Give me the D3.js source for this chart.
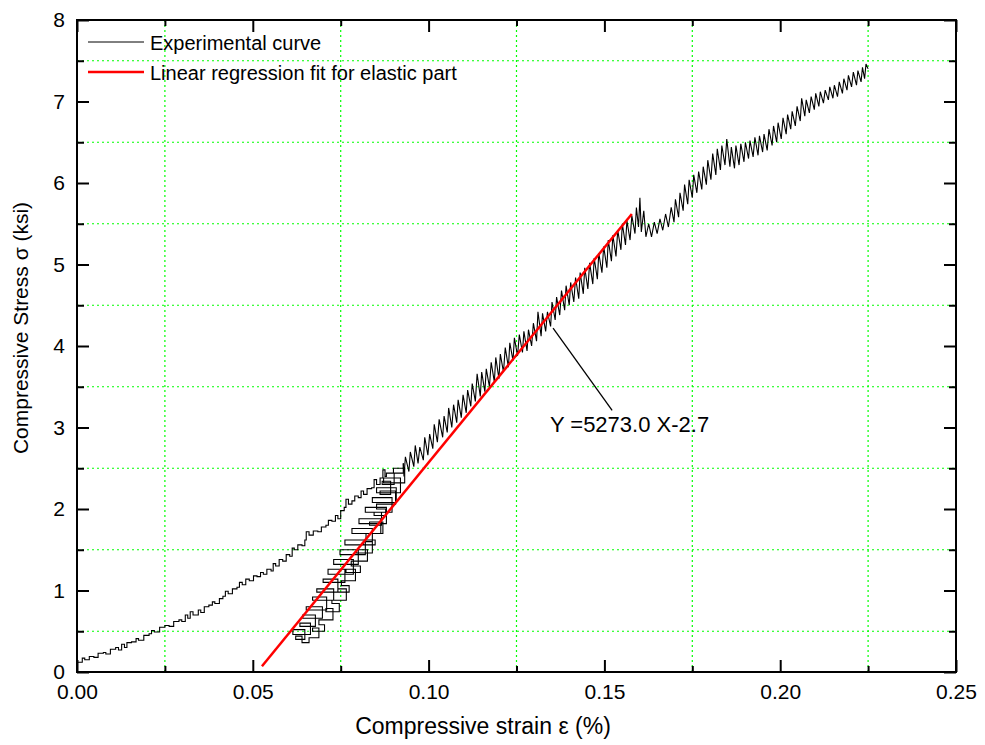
<!DOCTYPE html>
<html>
<head>
<meta charset="utf-8">
<script src="https://cdn.jsdelivr.net/npm/d3@7"></script>
<style>
  body { margin: 0; background: #fff; }
  text { font-family: "Liberation Sans", Arial, sans-serif; fill: #000; }
</style>
</head>
<body>
<div id="chart-area"></div>
<script>
// tick values
var strainTicks = [0, 0.05, 0.10, 0.15, 0.20, 0.25];
var strainMinor = [0.025, 0.075, 0.125, 0.175, 0.225];
var stressTicks = [0, 1, 2, 3, 4, 5, 6, 7, 8];
var stressMinor = [0.5, 1.5, 2.5, 3.5, 4.5, 5.5, 6.5, 7.5];

// experimental curve, strain (%) vs stress (ksi)
var loadingBranch = [
  [0.0000,0.12],[0.0015,0.17],[0.0022,0.15],[0.0035,0.19],[0.0048,0.18],[0.0060,0.23],[0.0075,0.24],[0.0082,0.22],
  [0.0095,0.28],[0.0110,0.30],[0.0118,0.27],[0.0127,0.34],[0.0135,0.30],[0.0142,0.36],[0.0155,0.37],[0.0168,0.41],
  [0.0175,0.39],[0.0190,0.45],[0.0205,0.47],[0.0212,0.51],[0.0220,0.49],[0.0235,0.55],[0.0250,0.57],[0.0262,0.56],
  [0.0275,0.62],[0.0290,0.64],[0.0298,0.62],[0.0308,0.70],[0.0315,0.66],[0.0322,0.74],[0.0330,0.70],[0.0345,0.76],
  [0.0352,0.73],[0.0362,0.80],[0.0375,0.82],[0.0385,0.86],[0.0392,0.84],[0.0405,0.90],[0.0415,0.93],[0.0422,0.99],
  [0.0430,0.96],[0.0442,1.02],[0.0455,1.04],[0.0462,1.10],[0.0470,1.07],[0.0480,1.14],[0.0490,1.12],[0.0502,1.18],
  [0.0512,1.17],[0.0522,1.22],[0.0530,1.20],[0.0540,1.26],[0.0552,1.24],[0.0558,1.33],[0.0565,1.30],[0.0575,1.38],
  [0.0585,1.36],[0.0595,1.44],[0.0605,1.42],[0.0612,1.52],[0.0618,1.50],[0.0628,1.56],[0.0640,1.55],[0.0648,1.62],
  [0.0652,1.72],[0.0660,1.68],[0.0672,1.73],[0.0685,1.72],[0.0695,1.78],[0.0708,1.80],[0.0715,1.86],[0.0725,1.85],
  [0.0735,1.92],[0.0742,1.88],[0.0750,1.98],[0.0760,2.02],[0.0765,2.12],[0.0772,2.06],[0.0782,2.10],[0.0790,2.16],
  [0.0800,2.14],[0.0808,2.22],[0.0815,2.18],[0.0825,2.25],[0.0838,2.26],[0.0845,2.36],[0.0852,2.30],[0.0862,2.38],
  [0.0870,2.48],[0.0876,2.40]
];
var unloadBranch = [
  [0.0880,2.44],[0.0902,2.30],[0.0868,2.34],[0.0892,2.18],[0.0862,2.22],[0.0906,2.06],[0.0852,2.00],[0.0878,1.92],
  [0.0845,1.96],[0.0866,1.80],[0.0832,1.84],[0.0870,1.70],[0.0822,1.62],[0.0848,1.56],[0.0815,1.60],[0.0840,1.46],
  [0.0795,1.50],[0.0826,1.36],[0.0780,1.30],[0.0806,1.22],[0.0765,1.26],[0.0792,1.12],[0.0752,1.06],[0.0774,0.98],
  [0.0742,1.02],[0.0766,0.88],[0.0725,0.84],[0.0746,0.74],[0.0708,0.78],[0.0728,0.64],[0.0688,0.58],[0.0704,0.50],
  [0.0670,0.54],[0.0688,0.42],[0.0660,0.36],[0.0640,0.44]
];
var reloadBranch = [
  [0.0622,0.40],[0.0648,0.52],[0.0614,0.46],[0.0664,0.60],[0.0634,0.56],[0.0678,0.70],[0.0642,0.66],[0.0698,0.80],
  [0.0652,0.76],[0.0710,0.92],[0.0670,0.88],[0.0730,1.02],[0.0682,0.98],[0.0742,1.14],[0.0700,1.10],[0.0762,1.26],
  [0.0714,1.20],[0.0786,1.38],[0.0730,1.32],[0.0800,1.50],[0.0748,1.44],[0.0820,1.62],[0.0762,1.56],[0.0840,1.76],
  [0.0782,1.70],[0.0864,1.88],[0.0802,1.82],[0.0880,2.02],[0.0820,1.96],[0.0896,2.14],[0.0840,2.08],[0.0908,2.26],
  [0.0852,2.20],[0.0920,2.38],[0.0872,2.32],[0.0932,2.50],[0.0900,2.44],[0.0928,2.56]
];
var upperBranch = [
  [0.0928,2.56],
  [0.0930,2.40],[0.0934,2.64],[0.0944,2.46],[0.0948,2.70],[0.0958,2.52],[0.0962,2.78],[0.0970,2.56],[0.0975,2.76],
  [0.0985,2.60],[0.0989,2.88],[0.0998,2.66],[0.1003,2.92],[0.1012,2.74],[0.1016,3.04],[0.1025,2.82],[0.1030,3.10],
  [0.1040,2.88],[0.1044,3.14],[0.1053,2.94],[0.1057,3.24],[0.1066,3.00],[0.1071,3.28],[0.1080,3.06],[0.1084,3.34],
  [0.1093,3.12],[0.1098,3.40],[0.1107,3.18],[0.1111,3.46],[0.1120,3.26],[0.1124,3.54],[0.1133,3.32],[0.1138,3.66],
  [0.1147,3.38],[0.1151,3.68],[0.1160,3.44],[0.1164,3.72],[0.1173,3.50],[0.1178,3.80],[0.1187,3.56],[0.1191,3.86],
  [0.1200,3.60],[0.1204,3.90],[0.1213,3.68],[0.1218,3.98],[0.1227,3.74],[0.1231,4.04],[0.1240,3.82],[0.1244,4.10],
  [0.1253,3.88],[0.1258,4.14],[0.1267,3.92],[0.1271,4.18],[0.1280,3.94],[0.1284,4.20],[0.1293,4.00],[0.1298,4.28],
  [0.1307,4.06],[0.1311,4.42],[0.1320,4.12],[0.1324,4.40],[0.1333,4.18],[0.1338,4.42],[0.1347,4.24],[0.1351,4.54],
  [0.1360,4.32],[0.1364,4.60],[0.1373,4.38],[0.1378,4.68],[0.1387,4.44],[0.1391,4.74],[0.1400,4.50],[0.1404,4.78],
  [0.1413,4.54],[0.1418,4.84],[0.1427,4.58],[0.1431,4.90],[0.1440,4.64],[0.1444,4.96],[0.1453,4.70],[0.1458,5.02],
  [0.1467,4.76],[0.1471,5.08],[0.1480,4.82],[0.1484,5.14],[0.1493,4.90],[0.1498,5.22],[0.1507,4.96],[0.1511,5.30],
  [0.1520,5.04],[0.1524,5.36],[0.1533,5.10],[0.1538,5.42],[0.1547,5.18],[0.1551,5.50],[0.1560,5.24],[0.1564,5.54],
  [0.1573,5.30],[0.1578,5.60],[0.1587,5.38],[0.1591,5.70],[0.1597,5.46],[0.1601,5.82],[0.1605,5.40],[0.1612,5.66],
  [0.1618,5.34],[0.1626,5.50],[0.1634,5.34],[0.1642,5.52],[0.1650,5.38],[0.1658,5.56],[0.1666,5.42],[0.1674,5.62],
  [0.1682,5.46],[0.1690,5.70],[0.1698,5.52],[0.1702,5.80],[0.1711,5.58],[0.1715,5.88],[0.1724,5.66],[0.1728,5.98],
  [0.1737,5.74],[0.1741,6.04],[0.1750,5.82],[0.1754,6.10],[0.1763,5.88],[0.1768,6.14],[0.1777,5.92],[0.1781,6.20],
  [0.1790,5.98],[0.1794,6.28],[0.1803,6.04],[0.1808,6.36],[0.1817,6.10],[0.1821,6.42],[0.1830,6.16],[0.1834,6.46],
  [0.1843,6.22],[0.1848,6.54],[0.1857,6.20],[0.1861,6.44],[0.1870,6.18],[0.1874,6.46],[0.1883,6.22],[0.1888,6.48],
  [0.1897,6.26],[0.1901,6.50],[0.1910,6.30],[0.1914,6.52],[0.1923,6.32],[0.1928,6.56],[0.1937,6.34],[0.1941,6.58],
  [0.1950,6.38],[0.1954,6.60],[0.1963,6.40],[0.1968,6.66],[0.1977,6.46],[0.1981,6.70],[0.1990,6.50],[0.1994,6.74],
  [0.2003,6.54],[0.2008,6.80],[0.2017,6.60],[0.2021,6.84],[0.2030,6.66],[0.2034,6.88],[0.2043,6.70],[0.2048,6.94],
  [0.2057,6.76],[0.2061,7.04],[0.2070,6.82],[0.2074,7.02],[0.2083,6.86],[0.2088,7.06],[0.2097,6.90],[0.2101,7.10],
  [0.2110,6.94],[0.2114,7.12],[0.2123,6.98],[0.2128,7.14],[0.2137,7.02],[0.2141,7.18],[0.2150,7.04],[0.2154,7.20],
  [0.2163,7.06],[0.2168,7.24],[0.2177,7.10],[0.2181,7.28],[0.2190,7.14],[0.2194,7.32],[0.2203,7.18],[0.2208,7.36],
  [0.2217,7.20],[0.2221,7.38],[0.2230,7.24],[0.2234,7.42],[0.2240,7.28],[0.2244,7.46],[0.2250,7.40]
];

// linear regression fit, Y = 5273.0 X - 2.7 (X as strain fraction)
var fitLine = [[0.0526, 0.07], [0.1578, 5.62]];
var fitLabel = "Y =5273.0 X-2.7";
var fitPointer = [[0.1354, 4.22], [0.1522, 3.21]];
var fitLabelAt = [0.1345, 2.94];

var legendNames = ["Experimental curve", "Linear regression fit for elastic part"];
var legendColors = ["#000", "#ff0000"];

var margin = {top: 20, right: 29, bottom: 73, left: 77};
var width = 985 - margin.left - margin.right,
    height = 745 - margin.top - margin.bottom;

var svg = d3.select("#chart-area").append("svg")
  .attr("width", 985).attr("height", 745)
  .append("g")
  .attr("transform", "translate(" + margin.left + "," + margin.top + ")");

var x = d3.scaleLinear().domain([0, 0.25]).range([0, width]);
var y = d3.scaleLinear().domain([0, 8]).range([height, 0]);

// green dotted grid at the half steps
svg.selectAll(".vgrid").data(strainMinor).enter().append("line")
  .attr("x1", d => x(d)).attr("x2", d => x(d))
  .attr("y1", 0).attr("y2", height)
  .attr("stroke", "#00ff00").attr("stroke-width", 1.2).attr("stroke-dasharray", "2,3");
svg.selectAll(".hgrid").data(stressMinor).enter().append("line")
  .attr("x1", 0).attr("x2", width)
  .attr("y1", d => y(d)).attr("y2", d => y(d))
  .attr("stroke", "#00ff00").attr("stroke-width", 1.2).attr("stroke-dasharray", "2,3");

// axes: majors with labels, minors shorter, ticks point inward on all four sides
function styleAxis(g) {
  g.select(".domain").remove();
  g.selectAll(".tick line").attr("stroke", "#000").attr("stroke-width", 2);
  g.selectAll(".tick text").attr("font-size", 21).attr("font-family", "Liberation Sans, Arial, sans-serif");
}
svg.append("g").attr("transform", "translate(0," + height + ")")
  .call(d3.axisBottom(x).tickValues(strainTicks).tickSize(-12).tickPadding(12).tickFormat(d3.format(".2f")))
  .call(styleAxis);
svg.append("g").attr("transform", "translate(0," + height + ")")
  .call(d3.axisBottom(x).tickValues(strainMinor).tickSize(-6).tickFormat(""))
  .call(styleAxis);
svg.append("g")
  .call(d3.axisTop(x).tickValues(strainTicks).tickSize(-12).tickFormat(""))
  .call(styleAxis);
svg.append("g")
  .call(d3.axisTop(x).tickValues(strainMinor).tickSize(-6).tickFormat(""))
  .call(styleAxis);
svg.append("g")
  .call(d3.axisLeft(y).tickValues(stressTicks).tickSize(-12).tickPadding(12).tickFormat(d3.format("d")))
  .call(styleAxis);
svg.append("g")
  .call(d3.axisLeft(y).tickValues(stressMinor).tickSize(-7).tickFormat(""))
  .call(styleAxis);
svg.append("g").attr("transform", "translate(" + width + ",0)")
  .call(d3.axisRight(y).tickValues(stressTicks).tickSize(-12).tickFormat(""))
  .call(styleAxis);
svg.append("g").attr("transform", "translate(" + width + ",0)")
  .call(d3.axisRight(y).tickValues(stressMinor).tickSize(-7).tickFormat(""))
  .call(styleAxis);

// frame
svg.append("rect").attr("width", width).attr("height", height)
  .attr("fill", "none").attr("stroke", "#000").attr("stroke-width", 2);

// experimental curve: lower part as logged steps, upper part as the jagged trace
var stepLine = d3.line().curve(d3.curveStepAfter).x(d => x(d[0])).y(d => y(d[1]));
var line = d3.line().x(d => x(d[0])).y(d => y(d[1]));
svg.append("path").datum(loadingBranch.concat(unloadBranch, reloadBranch))
  .attr("d", stepLine)
  .attr("fill", "none").attr("stroke", "#000").attr("stroke-width", 1.1);
svg.append("path").datum(upperBranch)
  .attr("d", line)
  .attr("fill", "none").attr("stroke", "#000").attr("stroke-width", 1.1);

// fit line
svg.append("path").datum(fitLine)
  .attr("d", line)
  .attr("fill", "none").attr("stroke", "#ff0000").attr("stroke-width", 2.5);

// annotation
svg.append("path").datum(fitPointer)
  .attr("d", line)
  .attr("stroke", "#000").attr("stroke-width", 1.3);
svg.append("text")
  .attr("x", x(fitLabelAt[0])).attr("y", y(fitLabelAt[1]))
  .attr("font-size", 22)
  .text(fitLabel);

// legend
var legend = svg.selectAll(".legend").data(legendNames).enter().append("g")
  .attr("transform", (d, i) => "translate(11," + (22 + i * 30) + ")");
legend.append("line")
  .attr("x1", 0).attr("x2", 56)
  .attr("stroke", (d, i) => legendColors[i])
  .attr("stroke-width", (d, i) => i ? 2.5 : 1);
legend.append("text")
  .attr("x", 62).attr("y", 8)
  .attr("font-size", 20)
  .text(d => d);

// axis titles
svg.append("text")
  .attr("x", 406).attr("y", height + 62)
  .attr("text-anchor", "middle").attr("font-size", 23)
  .text("Compressive strain \u03b5 (%)");
svg.append("text")
  .attr("transform", "rotate(-90)")
  .attr("x", -308).attr("y", -49)
  .attr("text-anchor", "middle").attr("font-size", 21)
  .text("Compressive Stress \u03c3 (ksi)");
</script>
</body>
</html>
